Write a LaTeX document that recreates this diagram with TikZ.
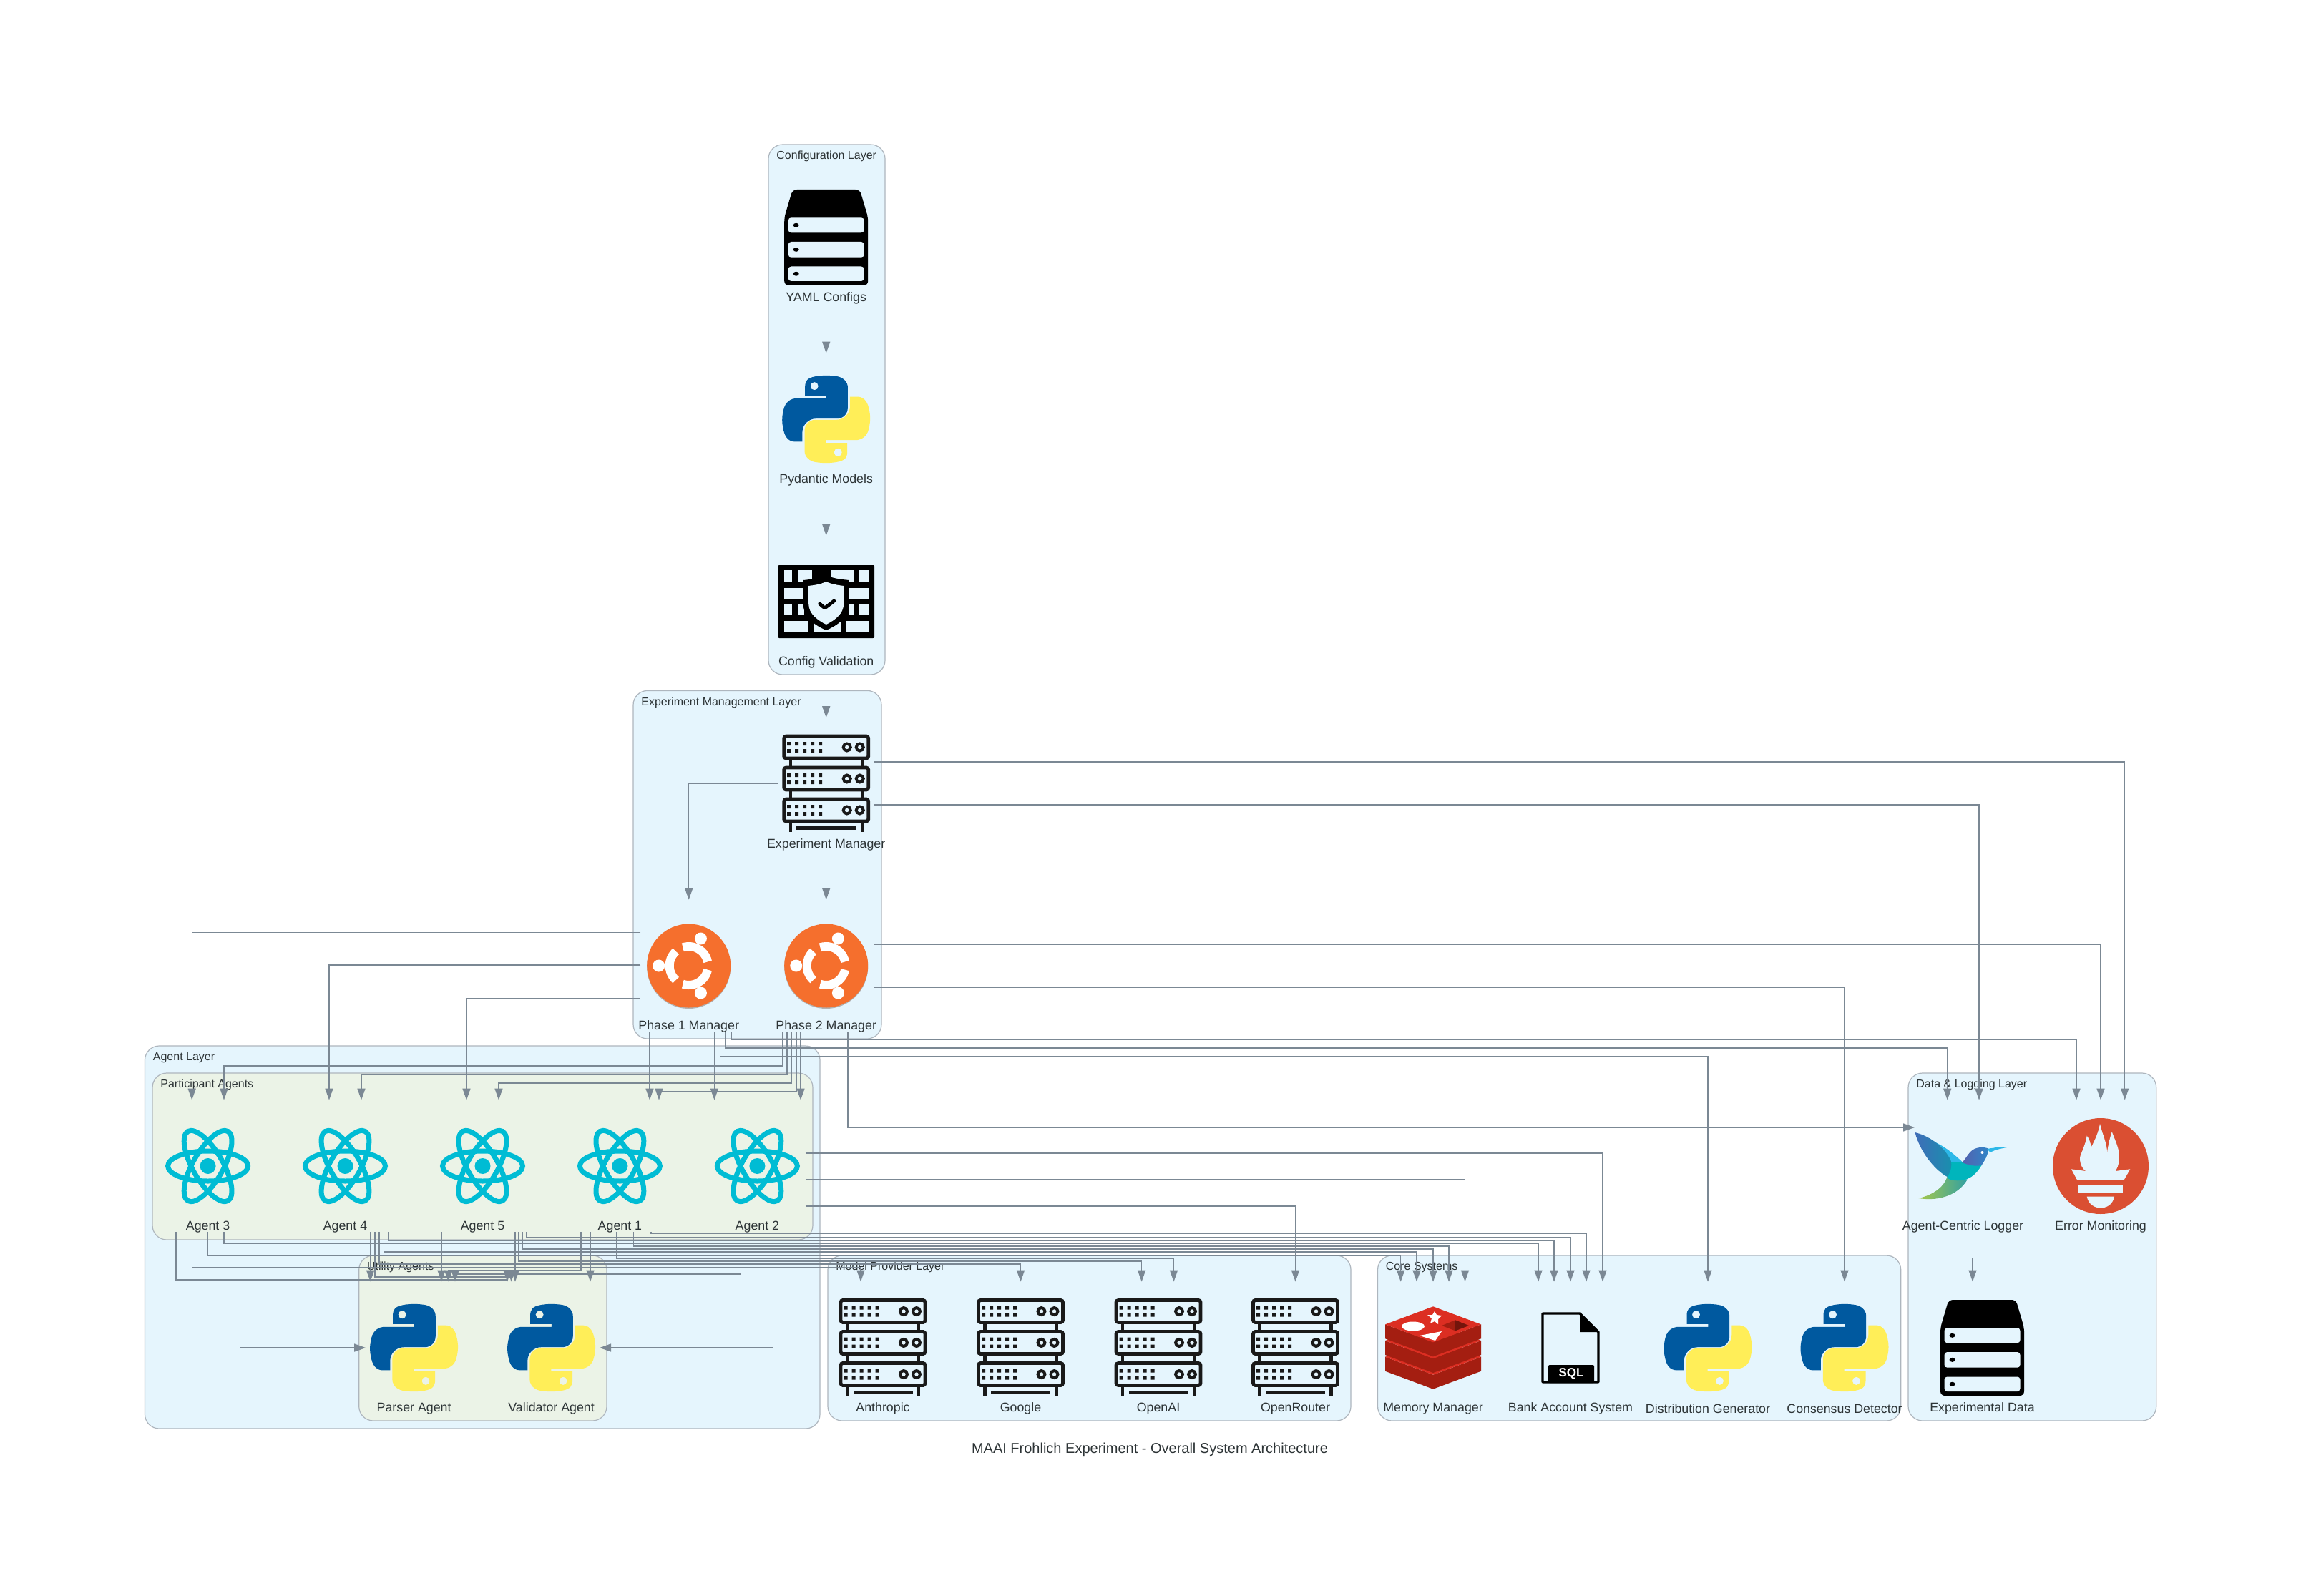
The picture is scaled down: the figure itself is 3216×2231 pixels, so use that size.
\documentclass[tikz,border=0pt]{standalone}
\usepackage{fontspec}
\setmainfont{Liberation Sans}
\usetikzlibrary{arrows.meta,calc}

\definecolor{inkgray}{HTML}{2D3436}
\definecolor{edgegray}{HTML}{7B8894}
\definecolor{layerfill}{HTML}{E5F5FD}
\definecolor{subfill}{HTML}{EBF3E7}
\definecolor{layerline}{HTML}{AEB6BE}
\definecolor{pyblue}{HTML}{00599F}
\definecolor{pyyellow}{HTML}{FFEE58}
\definecolor{reactcyan}{HTML}{00BCD4}
\definecolor{ubuntuorange}{HTML}{F56F2D}
\definecolor{redislight}{HTML}{DC2E22}
\definecolor{redisdark}{HTML}{A41E11}
\definecolor{promred}{HTML}{DA4F32}
\definecolor{birdwing}{HTML}{3F6DB8}
\definecolor{birdwingend}{HTML}{1890AE}
\definecolor{birdbright}{HTML}{2DB8E8}
\definecolor{birdbody}{HTML}{00B5BC}
\definecolor{birdhead}{HTML}{5460AE}
\definecolor{birdheadend}{HTML}{2F86C8}
\definecolor{birdtail}{HTML}{A6C84A}
\definecolor{birdtailend}{HTML}{2F9FA5}

\tikzset{
  box/.style={minimum width=67pt,minimum height=92pt,inner sep=0pt},
  caption/.style={font=\fontsize{8.9}{10}\selectfont,text=inkgray,inner sep=0pt},
  headline/.style={font=\fontsize{10}{11}\selectfont,text=inkgray,inner sep=0pt},
  layertitle/.style={font=\fontsize{8}{9}\selectfont,text=inkgray,inner sep=0pt,anchor=west},
  layerbox/.style={draw=layerline,line width=.6pt,rounded corners=10pt},
  link/.style={draw=edgegray,line width=.7pt,-{Triangle[length=8pt,width=5.5pt]}},
  pythonicon/.pic={
    \foreach \ang/\col in {0/pyblue,180/pyyellow}{
      \begin{scope}[rotate=\ang,scale=1.114,shift={(-55.2,-54.9)}]
        \fill[\col,even odd rule] (54.919,0.001) .. controls (50.335,0.022) and (45.958,0.413) .. (42.106,1.095)
          .. controls (30.76,3.099) and (28.7,7.295) .. (28.7,15.032) -- (28.7,25.25) -- (55.513,25.25)
          -- (55.513,28.656) -- (18.637,28.656) .. controls (10.845,28.656) and (4.022,33.34) .. (1.888,42.25)
          .. controls (-0.574,52.463) and (-0.683,58.836) .. (1.888,69.5)
          .. controls (3.794,77.438) and (8.345,83.094) .. (16.138,83.094) -- (25.357,83.094) -- (25.357,70.844)
          .. controls (25.357,61.994) and (33.014,54.188) .. (42.106,54.188) -- (68.888,54.188)
          .. controls (76.342,54.188) and (82.294,48.05) .. (82.294,40.563) -- (82.294,15.032)
          .. controls (82.294,7.766) and (76.164,2.308) .. (68.888,1.095)
          .. controls (64.282,0.328) and (59.503,-0.02) .. (54.919,0.001) -- cycle
          (40.419,13.3) ellipse [x radius=5,y radius=5.1];
      \end{scope}
    }
  },
  reacticon/.pic={
    \foreach \ang in {0,60,120}
      \draw[reactcyan,line width=3.5pt,rotate=\ang] (0,0) ellipse [x radius=56,y radius=21];
    \fill[reactcyan] (0,0) circle [radius=11];
  },
  ubuntuicon/.pic={
    \fill[black!30] (0,1.5) circle [radius=58.5];
    \fill[ubuntuorange] (0,0) circle [radius=58.5];
    \foreach \ang in {12,132,252}
      \draw[white,line width=6pt] (\ang:27) arc [start angle=\ang,delta angle=96,radius=27];
    \fill[white] (16.7,-38) circle [radius=8.5] (-42,0) circle [radius=8.5] (16.7,38) circle [radius=8.5];
  },
  racksicon/.pic={
    \draw[black!90,line width=2.2pt] (-50,-33) -- (-50,67) (50,-33) -- (50,67);
    \fill[black!90] (-41.5,59.5) rectangle (41.5,64.5);
    \foreach \uy in {-67.5,-23.5,20.5}{
      \draw[black!90,fill=layerfill,line width=2.4pt,rounded corners=1.5pt] (-59,\uy+1) rectangle (59,\uy+32);
      \foreach \ux in {-52,-41,-30,-19,-8}
        \fill[black!90] (\ux-2.5,\uy+9) rectangle (\ux+2.5,\uy+14) (\ux-2.5,\uy+19) rectangle (\ux+2.5,\uy+24);
      \draw[black!90,line width=2pt] (29,\uy+16.5) circle [radius=5] (47,\uy+16.5) circle [radius=5];
    }
  },
  storageicon/.pic={
    \fill[black,rounded corners=3pt] (-47,-67) -- (47,-67) -- (58.5,-28) -- (58.5,67) -- (-58.5,67) -- (-58.5,-28) -- cycle;
    \foreach \ua/\ub in {-27.7/-6.7,6/27.7,40.5/61}{
      \fill[layerfill,rounded corners=2pt] (-53,\ua) rectangle (53,\ub);
      \fill[black] (-42,\ua/2+\ub/2) ellipse [x radius=4,y radius=3];
    }
  },
  firewallicon/.pic={
    \fill[black,rounded corners=1pt] (-67.5,-51) rectangle (67.5,51);
    \foreach \xa/\xb/\ya/\yb in {-59/-48/-44/-28,-40/-20/-44/-28,7/38/-44/-28,45/59/-44/-28,
      -59/-31/-19.4/-3.9,31/59/-19.4/-3.9,
      -59/-48/3.4/19.4,-40/-31/3.4/19.4,31/38/3.4/19.4,45/59/3.4/19.4,
      -59/-24.5/27/42.6,-18/20/27/42.6,28/59/27/42.6}
      \fill[layerfill] (\xa,\ya) rectangle (\xb,\yb);
    \fill[black] (0,-37) .. controls (10,-32) and (22,-31) .. (32,-30) -- (32,3) .. controls (32,22) and (16,33) .. (0,40)
      .. controls (-16,33) and (-32,22) .. (-32,3) -- (-32,-30) .. controls (-22,-31) and (-10,-32) .. (0,-37) -- cycle;
    \fill[layerfill] (0,-28) .. controls (8,-24) and (17,-23) .. (24.5,-22) -- (24.5,3) .. controls (24.5,17) and (12,26) .. (0,32)
      .. controls (-12,26) and (-24.5,17) .. (-24.5,3) -- (-24.5,-22) .. controls (-17,-23) and (-8,-24) .. (0,-28) -- cycle;
    \draw[black,line width=2.4pt,line cap=round,line join=round] (-9,3) -- (-2,9) -- (11,-1);
  },
  redisicon/.pic={
    \foreach \off in {45.4,22.7,0}{
      \fill[redisdark] (-67,-32.7+\off) -- (-67,-12.7+\off) -- (0,12.3+\off) -- (67,-12.7+\off) -- (67,-32.7+\off) -- (0,-7.7+\off) -- cycle;
      \fill[redislight] (0,-57.7+\off) -- (67,-32.7+\off) -- (0,-7.7+\off) -- (-67,-32.7+\off) -- cycle;
    }
    \fill[white] (2,-51) -- (5,-46) -- (12,-45) -- (7,-40) -- (7,-33) -- (2,-37) -- (-4,-34) -- (-2,-41) -- (-8,-46) -- (-1,-46) -- cycle;
    \fill[white] (-28,-30) ellipse [x radius=16,y radius=6.5];
    \fill[white] (-19,-17) -- (12,-23) -- (3,-10) -- cycle;
    \fill[redisdark] (12,-31) -- (31,-38.7) -- (31,-23.7) -- cycle;
    \fill[redisdark!70!black] (31,-38.7) -- (50,-31) -- (31,-23.7) -- cycle;
  },
  sqlicon/.pic={
    \draw[black,line width=1.6pt,line join=round] (-39,-48) -- (13,-48) -- (39,-22) -- (39,48) -- (-39,48) -- cycle;
    \fill[black] (13,-49) -- (40,-22) -- (13,-22) -- cycle;
    \fill[black,rounded corners=1pt] (-31,24) rectangle (33,49);
    \node[font=\fontsize{8.5}{9}\selectfont\bfseries,text=white,inner sep=0pt] (sqltag) at (1,36) {SQL};
  },
  birdicon/.pic={
    \shade[left color=birdtail,right color=birdtailend] (-62,45) .. controls (-40,40) and (-26,28) .. (-22,15)
      .. controls (-5,18) and (8,18) .. (6,19) .. controls (-5,38) and (-30,50) .. (-62,45) -- cycle;
    \fill[birdbright] (-45,-36) .. controls (-25,-28) and (-12,-16) .. (0,-5) -- (-17,-5) -- cycle;
    \fill[birdbody] (-17,-5) -- (-1,-5) -- (26,-1) .. controls (18,12) and (8,22) .. (-12,20) .. controls (-18,19) and (-22,18) .. (-22,15) -- cycle;
    \shade[left color=birdwing,right color=birdwingend] (-67,-47) .. controls (-50,-43) and (-28,-30) .. (-17,-8)
      .. controls (-15,0) and (-17,8) .. (-22,15) .. controls (-40,5) and (-60,-20) .. (-67,-47) -- cycle;
    \shade[left color=birdhead,right color=birdheadend] (-1,-5) .. controls (8,-15) and (10,-26) .. (26,-26)
      .. controls (32,-26) and (36,-25) .. (36,-23) .. controls (33,-10) and (28,-5) .. (26,-1) .. controls (15,1) and (6,-2) .. (-1,-5) -- cycle;
    \fill[birdbright] (34,-24) .. controls (45,-26) and (55,-27) .. (67,-27) .. controls (55,-25) and (45,-23) .. (38,-19) -- cycle;
    \fill[white] (27,-19) circle [radius=2];
  },
  prometheusicon/.pic={
    \fill[promred] (0,0) circle [radius=67];
    \fill[layerfill] (-21,7) .. controls (-30,0) and (-30,-12) .. (-27.7,-16) .. controls (-24,-26) and (-21,-32) .. (-19.3,-42.3)
      .. controls (-16,-38) and (-14,-32) .. (-13.3,-26.5) .. controls (-8,-36) and (-3,-48) .. (-1,-59)
      .. controls (2,-45) and (9,-32) .. (9,-18.6) .. controls (10,-28) and (13,-40) .. (15.7,-48)
      .. controls (20,-35) and (27,-25) .. (25.7,-8.7) .. controls (25,-1) and (23,3) .. (20.7,7) -- cycle;
    \fill[layerfill] (-41,4.3) -- (-21,7) -- (20.7,7) -- (41.3,4.3) -- (32.3,19.8) -- (-32.7,19.8) -- cycle;
    \fill[layerfill] (-31.7,26) rectangle (31.3,37.5);
    \fill[layerfill] (-19.3,42.7) -- (19,42.7) .. controls (17,54) and (8,58.5) .. (0,58.5) .. controls (-8,58.5) and (-17,54) .. (-19.3,42.7) -- cycle;
  }
}

\newcommand{\layerbox}[6]{
  \draw[layerbox,fill=#4] (#1,#2) rectangle (#3,#5);
  \node[layertitle] (#6) at ($(#1,#2)+(11,16.5)$) {\layername};
}
\newcommand{\comp}[4]{
  \node[box] (#1) at (#2) {};
  \pic at (#1) {#3};
  \node[caption] (#1label) at ($(#1)+(0,85)$) {#4};
}
\newcommand{\drop}[5]{
  \draw[link] ($(#1.south)+(#2,0)$) coordinate (fromhere) -- (fromhere |- 0,#3) -| ($(#4.north)+(#5,0)$);
}
\newcommand{\side}[4]{
  \draw[link] ($(#1)+(0,#2)$) -| ($(#3.north)+(#4,0)$);
}

\begin{document}
\begin{tikzpicture}[x=.5pt,y=-.5pt]
  \useasboundingbox[fill=white] (0,0) rectangle (3216,2231);

  \def\layername{Configuration Layer}
  \layerbox{1074}{202}{1237}{layerfill}{943}{configtitle}
  \def\layername{Experiment Management Layer}
  \layerbox{885}{965.4}{1232}{layerfill}{1452}{managetitle}
  \def\layername{Agent Layer}
  \layerbox{202.5}{1462}{1146}{layerfill}{1997}{agenttitle}
  \def\layername{Participant Agents}
  \layerbox{213}{1500}{1136}{subfill}{1733}{participanttitle}
  \def\layername{Utility Agents}
  \layerbox{501.7}{1755}{848}{subfill}{1986}{utilitytitle}
  \def\layername{Model Provider Layer}
  \layerbox{1157}{1755}{1888}{layerfill}{1986}{providertitle}
  \def\layername{Core Systems}
  \layerbox{1925.5}{1755}{2656.7}{layerfill}{1986}{coretitle}
  \def\layername{Data \& Logging Layer}
  \layerbox{2667}{1500}{3013.7}{layerfill}{1986}{datatitle}

  \comp{yaml}{1154.7,332}{storageicon}{YAML Configs}
  \comp{pydantic}{1154.7,586}{pythonicon}{Pydantic Models}
  \comp{configval}{1154.7,841}{firewallicon}{Config Validation}
  \comp{expmgr}{1154.7,1095.5}{racksicon}{Experiment Manager}
  \comp{phaseone}{962.7,1350}{ubuntuicon}{Phase 1 Manager}
  \comp{phasetwo}{1154.7,1350}{ubuntuicon}{Phase 2 Manager}
  \comp{agentthree}{290.6,1630}{reacticon}{Agent 3}
  \comp{agentfour}{482.5,1630}{reacticon}{Agent 4}
  \comp{agentfive}{674.5,1630}{reacticon}{Agent 5}
  \comp{agentone}{866.4,1630}{reacticon}{Agent 1}
  \comp{agenttwo}{1058.4,1630}{reacticon}{Agent 2}
  \comp{parser}{578.6,1884}{pythonicon}{Parser Agent}
  \comp{validator}{770.6,1884}{pythonicon}{Validator Agent}
  \comp{anthropic}{1234,1884}{racksicon}{Anthropic}
  \comp{google}{1426.5,1884}{racksicon}{Google}
  \comp{openai}{1619,1884}{racksicon}{OpenAI}
  \comp{openrouter}{1810.5,1884}{racksicon}{OpenRouter}
  \comp{memory}{2003,1884}{redisicon}{Memory Manager}
  \comp{bank}{2195,1884}{sqlicon}{Bank Account System}
  \comp{distgen}{2387,1884}{pythonicon}{Distribution Generator}
  \comp{consensus}{2578,1884}{pythonicon}{Consensus Detector}
  \comp{logger}{2743.5,1630}{birdicon}{Agent-Centric Logger}
  \comp{errormon}{2936,1630}{prometheusicon}{Error Monitoring}
  \comp{expdata}{2770.5,1884}{storageicon}{Experimental Data}

  \drop{yaml}{0}{460}{pydantic}{0}
  \drop{pydantic}{0}{710}{configval}{0}
  \drop{configval}{0}{970}{expmgr}{0}
  \drop{expmgr}{0}{1220}{phasetwo}{0}
  \draw[link] (expmgr.west) -| (phaseone.north);
  \side{expmgr.east}{-30.5}{errormon}{33.7}
  \side{expmgr.east}{29.5}{logger}{22.5}

  \side{phaseone.west}{-46.4}{agentthree}{-22.4}
  \side{phaseone.west}{-1}{agentfour}{-22.5}
  \side{phaseone.west}{46}{agentfive}{-22.5}
  \drop{phaseone}{-54.7}{1500}{agentone}{41.6}
  \drop{phaseone}{36.3}{1500}{agenttwo}{-60}
  \drop{phaseone}{44}{1477}{distgen}{0}
  \drop{phaseone}{51.3}{1465}{logger}{-21.8}
  \drop{phaseone}{59.3}{1453}{errormon}{-34}

  \drop{phasetwo}{-60.7}{1490}{agentthree}{22.4}
  \drop{phasetwo}{-54.7}{1502}{agentfour}{22.5}
  \drop{phasetwo}{-48}{1514}{agentfive}{22.5}
  \drop{phasetwo}{-41.7}{1526}{agentone}{54.6}
  \drop{phasetwo}{-35.7}{1530}{agenttwo}{60.6}
  \draw[link] ($(phasetwo.south)+(30.3,0)$) |- ($(logger.west)+(0,-54)$);
  \side{phasetwo.east}{-30}{errormon}{0}
  \side{phasetwo.east}{30}{consensus}{0}

  \drop{agentthree}{-44.6}{1789}{validator}{-61.6}
  \drop{agentthree}{-22.3}{1771.7}{anthropic}{-31}
  \drop{agentthree}{0}{1755.7}{memory}{-45.3}
  \drop{agentthree}{22.3}{1738}{bank}{-45}
  \draw[link] ($(agentthree.south)+(44.6,0)$) |- (parser.west);

  \drop{agentfour}{35}{1760}{parser}{-61}
  \drop{agentfour}{41.5}{1785}{validator}{-56}
  \drop{agentfour}{47.5}{1767}{google}{0}
  \drop{agentfour}{54.2}{1750}{memory}{-23}
  \drop{agentfour}{60.5}{1734}{bank}{-23}

  \drop{agentfive}{-57.5}{1760}{parser}{38.4}
  \drop{agentfive}{45.5}{1760}{validator}{-50.6}
  \drop{agentfive}{50.5}{1763}{openai}{-23.4}
  \drop{agentfive}{55.5}{1746}{memory}{0}
  \drop{agentfive}{61}{1730}{bank}{0}

  \drop{agentone}{-54.4}{1775.7}{parser}{48}
  \drop{agentone}{-41.4}{1760}{validator}{54.4}
  \drop{agentone}{-4.4}{1759}{openai}{21.5}
  \drop{agentone}{19.2}{1742}{memory}{22}
  \drop{agentone}{43.6}{1724}{bank}{22}

  \drop{agenttwo}{-23}{1781}{parser}{57.4}
  \draw[link] ($(agenttwo.south)+(22.3,0)$) |- (validator.east);
  \side{agenttwo.east}{-18}{bank}{45}
  \side{agenttwo.east}{19}{memory}{44.5}
  \side{agenttwo.east}{56}{openrouter}{0}

  \drop{logger}{14}{1760}{expdata}{-13.5}

  \node[headline] (diagramtitle) at (1607,2026) {MAAI Frohlich Experiment - Overall System Architecture};
\end{tikzpicture}
\end{document}
